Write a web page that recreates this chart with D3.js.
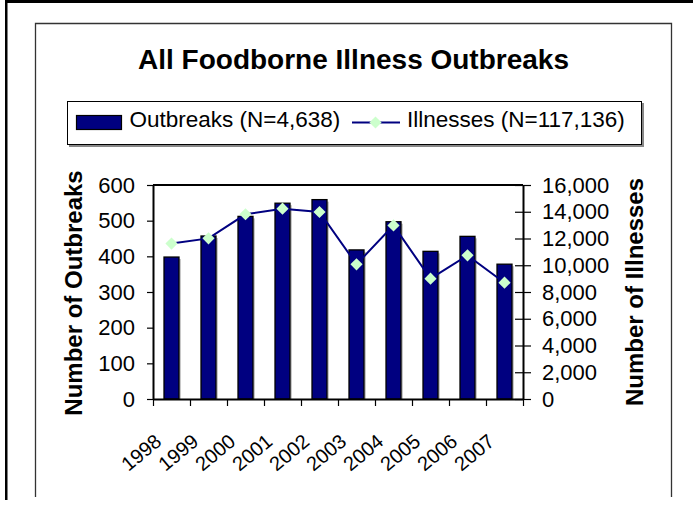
<!DOCTYPE html>
<html>
<head>
<meta charset="utf-8">
<script src="https://cdn.jsdelivr.net/npm/d3@7"></script>
<style>
  html, body { margin: 0; padding: 0; background: #fff; }
  svg { display: block; font-family: "Liberation Sans", Arial, sans-serif; }
</style>
</head>
<body>
<svg id="chart" width="693" height="506"></svg>
<script>
// Foodborne illness outbreaks reported per year, with total illnesses
const years = ["1998", "1999", "2000", "2001", "2002", "2003", "2004", "2005", "2006", "2007"];
const outbreaks = [398, 457, 512, 549, 559, 418, 497, 414, 456, 378];
const illnesses = [11620, 12010, 13810, 14230, 13980, 10070, 12980, 9000, 10740, 8696];
const outbreakTicks = [0, 100, 200, 300, 400, 500, 600];
const illnessTicks = [0, 2000, 4000, 6000, 8000, 10000, 12000, 14000, 16000];
const titleText = "All Foodborne Illness Outbreaks";
const legendLabels = ["Outbreaks (N=4,638)", "Illnesses (N=117,136)"];
const axisTitles = ["Number of Outbreaks", "Number of Illnesses"];

const NAVY = "#000080";
const MINT = "#ccffcc";
const markerArea = 74;

const svg = d3.select("#chart");

// Frame of the picture and of the chart area
svg.append("rect").attr("x", 5).attr("y", 0).attr("width", 688).attr("height", 3).attr("fill", "#000");
svg.append("rect").attr("x", 5).attr("y", 0).attr("width", 2.5).attr("height", 500).attr("fill", "#000");
svg.append("path")
  .attr("d", "M35.5,497V23.5H671.5V497")
  .attr("fill", "none").attr("stroke", "#333").attr("stroke-width", 1.3);

// Title
svg.append("text")
  .attr("x", 353.5).attr("y", 69)
  .attr("text-anchor", "middle")
  .attr("font-size", 28).attr("font-weight", "bold")
  .text(titleText);

// Legend
const legend = svg.append("g");
legend.append("rect").attr("x", 69).attr("y", 103).attr("width", 575).attr("height", 44).attr("fill", "#888");
legend.append("rect").attr("x", 67.5).attr("y", 101.5).attr("width", 574).attr("height", 43)
  .attr("fill", "#fff").attr("stroke", "#000").attr("stroke-width", 1);
legend.append("rect").attr("x", 76.5).attr("y", 115.5).attr("width", 45).attr("height", 14)
  .attr("fill", NAVY).attr("stroke", "#000").attr("stroke-width", 1.2);
legend.append("text").attr("x", 129.5).attr("y", 127).attr("font-size", 22.5).text(legendLabels[0]);
legend.append("line").attr("x1", 352).attr("x2", 400).attr("y1", 122.5).attr("y2", 122.5)
  .attr("stroke", NAVY).attr("stroke-width", 2);
legend.append("path")
  .attr("d", d3.symbol(d3.symbolSquare, markerArea)())
  .attr("transform", "translate(375.5,122.5) rotate(45)")
  .attr("fill", MINT);
legend.append("text").attr("x", 407).attr("y", 127).attr("font-size", 22.5).text(legendLabels[1]);

// Plot geometry
const plotLeft = 153, plotRight = 523, plotTop = 185, plotBottom = 399;

const xCat = d3.scaleBand().domain(years).range([plotLeft, plotRight]);
const xBar = d3.scaleBand().domain(years).range([plotLeft, plotRight]).paddingInner(0.595).paddingOuter(0.2975);
const xEdge = d3.scaleLinear().domain([0, years.length]).range([plotLeft, plotRight]);
const yL = d3.scaleLinear().domain([0, 600]).range([plotBottom, plotTop]);
const yR = d3.scaleLinear().domain([0, 16000]).range([plotBottom, plotTop]);

const plot = svg.append("g");

// Bar shadows, then bars
plot.selectAll("rect.shadow").data(years).join("rect")
  .attr("class", "shadow")
  .attr("x", d => xBar(d) + 2)
  .attr("y", (d, i) => yL(outbreaks[i]) + 2)
  .attr("width", xBar.bandwidth())
  .attr("height", (d, i) => plotBottom - yL(outbreaks[i]) - 2)
  .attr("fill", "#c8c8c8");
plot.selectAll("rect.bar").data(years).join("rect")
  .attr("class", "bar")
  .attr("x", d => xBar(d))
  .attr("y", (d, i) => yL(outbreaks[i]))
  .attr("width", xBar.bandwidth())
  .attr("height", (d, i) => plotBottom - yL(outbreaks[i]))
  .attr("fill", NAVY).attr("stroke", "#000").attr("stroke-width", 1.3);

// Top edge of plot area
svg.append("line").attr("x1", plotLeft).attr("x2", plotRight).attr("y1", plotTop).attr("y2", plotTop)
  .attr("stroke", "#000").attr("stroke-width", 2);

// Left axis
const axL = svg.append("g").attr("transform", `translate(${plotLeft},0)`)
  .call(d3.axisLeft(yL).tickValues(outbreakTicks).tickSize(6).tickSizeOuter(0).tickPadding(12));
// Right axis, ticks crossing the axis line
const axR = svg.append("g").attr("transform", `translate(${plotRight},0)`)
  .call(d3.axisRight(yR).tickValues(illnessTicks).tickSize(8).tickSizeOuter(0).tickPadding(11)
    .tickFormat(d3.format(",")));
axR.selectAll(".tick line").attr("x1", -8);
// Bottom axis with ticks between categories
const axB = svg.append("g").attr("transform", `translate(0,${plotBottom})`)
  .call(d3.axisBottom(xEdge).ticks(years.length).tickSize(7).tickSizeOuter(0).tickFormat(""));

[axL, axR, axB].forEach(g => {
  g.select(".domain").attr("stroke", "#000").attr("stroke-width", 2);
  g.selectAll(".tick line").attr("stroke", "#000").attr("stroke-width", 1.2);
  g.selectAll(".tick text").attr("font-size", 22).attr("fill", "#000")
    .attr("font-family", "Liberation Sans, Arial, sans-serif");
});

// Category labels, rotated
svg.append("g").selectAll("text").data(years).join("text")
  .attr("transform", d => `translate(${xCat(d) + xCat.bandwidth() / 2 - 8.8},443.5) rotate(-40)`)
  .attr("text-anchor", "end")
  .attr("font-size", 20)
  .text(d => d);

// Illness line and markers
const line = d3.line()
  .x((d, i) => xCat(years[i]) + xCat.bandwidth() / 2)
  .y(d => yR(d));
svg.append("path").datum(illnesses)
  .attr("d", line).attr("fill", "none")
  .attr("stroke", NAVY).attr("stroke-width", 2);
svg.append("g").selectAll("path").data(illnesses).join("path")
  .attr("d", d3.symbol(d3.symbolSquare, markerArea)())
  .attr("transform", (d, i) => `translate(${xCat(years[i]) + xCat.bandwidth() / 2},${yR(d)}) rotate(45)`)
  .attr("fill", MINT);

// Axis titles
svg.append("text")
  .attr("transform", "translate(82,293) rotate(-90)")
  .attr("text-anchor", "middle").attr("font-size", 24).attr("font-weight", "bold")
  .text(axisTitles[0]);
svg.append("text")
  .attr("transform", "translate(643,292) rotate(-90)")
  .attr("text-anchor", "middle").attr("font-size", 24).attr("font-weight", "bold")
  .text(axisTitles[1]);
</script>
</body>
</html>
